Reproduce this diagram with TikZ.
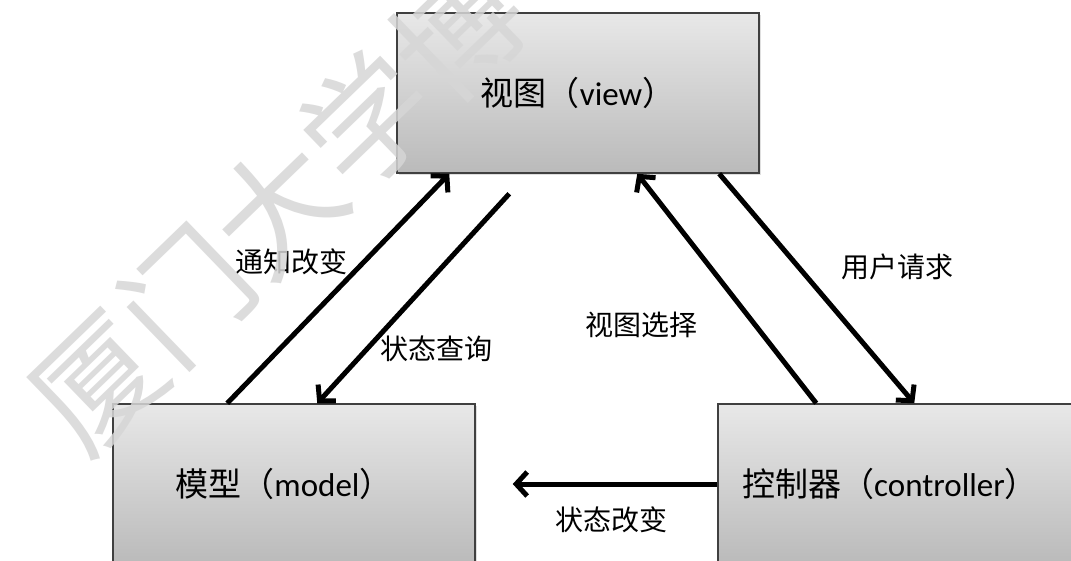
\documentclass[tikz,border=0pt]{standalone}
\usepackage{fontspec}
\setmainfont{Carlito}
\newfontfamily\cjk{Noto Sans CJK SC}
\usetikzlibrary{arrows.meta,shadows}
\begin{document}
\begin{tikzpicture}[x=1pt,y=-1pt,
  box/.style={draw=black!75, line width=1.5pt, rectangle, minimum width=362pt, minimum height=160pt,
    inner sep=0pt, top color=black!9, bottom color=black!27, font=\fontsize{33}{36}\selectfont,
    drop shadow={shadow xshift=2pt, shadow yshift=-2pt, opacity=0.25}},
  flow/.style={line width=5pt, -{Straight Barb[length=11pt,width=24pt]}},
  lbl/.style={font=\cjk\fontsize{28}{30}\selectfont, inner sep=0pt},
  wm/.style={font=\cjk\fontsize{126}{130}\selectfont, text=black!16, text opacity=0.85, inner sep=0pt}]
\useasboundingbox (0,0) rectangle (1071,560);
\clip (0,0) rectangle (1071,560);
\fill[white] (0,0) rectangle (1071,560);

\node[box] (view) at (578,93) {{\cjk 视图（}view{\cjk ）}};
\node[box] (model) at (294,484) {{\cjk 模型（}model{\cjk ）}\hspace*{20pt}};
\node[box] (ctrl) at (899,484) {{\cjk 控制器（}controller{\cjk ）}\hspace*{18pt}};

\coordinate (q) at ([xshift=113pt, yshift=-20pt]view.south west);
\draw[flow] ([xshift=115pt]model.north west) -- ([xshift=53pt]view.south west);
\draw[flow] (q) -- ([xshift=205pt]model.north west);
\draw[flow] ([xshift=99pt]ctrl.north west) -- ([xshift=241pt]view.south west);
\draw[flow] ([xshift=323pt]view.south west) -- ([xshift=197pt]ctrl.north west);
\draw[flow] (ctrl.west) -- ([xshift=37pt]model.east);

\node[lbl] (l1) at (291,262) {通知改变};
\node[lbl] (l2) at (436,349) {状态查询};
\node[lbl] (l3) at (641,325) {视图选择};
\node[lbl] (l4) at (897,267) {用户请求};
\node[lbl] (l5) at (611,520) {状态改变};

\node[wm, rotate=44] (wmk) at (277,207) {厦门大学博};
\end{tikzpicture}
\end{document}
